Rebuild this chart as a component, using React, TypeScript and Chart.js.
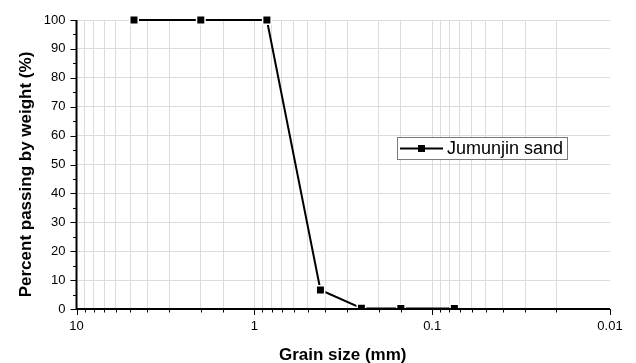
import React, { useEffect, useRef } from "react";
import { Chart, registerables } from "chart.js";

Chart.register(...registerables);

// Sieve sizes (mm) and percent passing for Jumunjin sand
const grainSizes = [4.75, 2.0, 0.85, 0.425, 0.25, 0.15, 0.075];
const percentPassing = [100, 100, 100, 6.6, 0.3, 0.2, 0.2];
const seriesName = "Jumunjin sand";
const xMajorTicks = [10, 1, 0.1, 0.01];
const yMajorTicks = [0, 10, 20, 30, 40, 50, 60, 70, 80, 90, 100];
const yMinorTicks = [5, 15, 25, 35, 45, 55, 65, 75, 85, 95];
const xTitle = "Grain size (mm)";
const yTitle = "Percent passing by weight (%)";

const FONT = "'Liberation Sans', Arial, sans-serif";

const isMajor = (v: number) => xMajorTicks.some((m) => Math.abs(v - m) / m < 1e-6);

const decorations = {
  id: "decorations",
  afterDraw(chart: any) {
    const { ctx, chartArea } = chart;
    const x = chart.scales.x;
    const y = chart.scales.y;
    ctx.save();

    // axis lines drawn over the data, so markers near 0 sit under the axis
    ctx.strokeStyle = "#000";
    ctx.lineWidth = 2;
    ctx.beginPath();
    ctx.moveTo(chartArea.left, chartArea.top);
    ctx.lineTo(chartArea.left, chartArea.bottom);
    ctx.lineTo(chartArea.right, chartArea.bottom);
    ctx.stroke();

    ctx.lineWidth = 1;
    // tick marks on the bottom axis (long at decades, short in between)
    for (const t of x.ticks) {
      const px = Math.round(x.getPixelForValue(t.value)) + 0.5;
      const len = isMajor(t.value) ? 6 : 3.5;
      ctx.beginPath();
      ctx.moveTo(px, chartArea.bottom);
      ctx.lineTo(px, chartArea.bottom + len);
      ctx.stroke();
    }
    // tick marks on the left axis
    const drawY = (v: number, len: number) => {
      const py = Math.round(y.getPixelForValue(v)) + 0.5;
      ctx.beginPath();
      ctx.moveTo(chartArea.left, py);
      ctx.lineTo(chartArea.left - len, py);
      ctx.stroke();
    };
    yMajorTicks.forEach((v) => drawY(v, 6));
    yMinorTicks.forEach((v) => drawY(v, 3.5));

    // axis titles
    ctx.fillStyle = "#000";
    ctx.font = `bold 17px ${FONT}`;
    ctx.textAlign = "center";
    ctx.textBaseline = "alphabetic";
    ctx.fillText(xTitle, (chartArea.left + chartArea.right) / 2 - 0.5, 360);
    ctx.save();
    ctx.translate(31, (chartArea.top + chartArea.bottom) / 2 + 10);
    ctx.rotate(-Math.PI / 2);
    ctx.fillText(yTitle, 0, 0);
    ctx.restore();

    // legend box
    const lx = 397.5, ly = 137.5, lw = 170, lh = 22;
    ctx.fillStyle = "#fff";
    ctx.fillRect(lx, ly, lw, lh);
    ctx.strokeStyle = "#7a7a7a";
    ctx.lineWidth = 1;
    ctx.strokeRect(lx, ly, lw, lh);
    const cy = ly + lh / 2;
    ctx.strokeStyle = "#000";
    ctx.lineWidth = 2;
    ctx.beginPath();
    ctx.moveTo(400, cy);
    ctx.lineTo(443, cy);
    ctx.stroke();
    ctx.fillStyle = "#000";
    ctx.fillRect(421.5 - 3.5, cy - 3.5, 7, 7);
    ctx.font = `18px ${FONT}`;
    ctx.textAlign = "left";
    ctx.textBaseline = "middle";
    ctx.fillText(seriesName, 447, cy + 1);
    ctx.restore();
  },
};

export default function App() {
  const canvasRef = useRef<HTMLCanvasElement | null>(null);

  useEffect(() => {
    const canvas = canvasRef.current;
    if (!canvas) return;
    const chart = new Chart(canvas, {
      type: "scatter",
      data: {
        datasets: [
          {
            label: seriesName,
            data: grainSizes.map((g, i) => ({ x: g, y: percentPassing[i] })),
            showLine: true,
            borderColor: "#000",
            borderWidth: 2,
            backgroundColor: "#000",
            pointStyle: "rect",
            pointRadius: 6,
            pointBorderColor: "#fff",
            pointBorderWidth: 1.5,
            clip: { left: 8, top: 8, right: 8, bottom: 0 },
          } as any,
        ],
      },
      options: {
        responsive: false,
        animation: false,
        devicePixelRatio: 1,
        layout: { padding: { top: 20, right: 26, left: 0, bottom: 0 } },
        plugins: { legend: { display: false }, tooltip: { enabled: false } },
        scales: {
          x: {
            type: "logarithmic",
            reverse: true,
            min: 0.01,
            max: 10,
            afterFit: (s: any) => {
              s.height = 54;
            },
            border: { display: false },
            grid: {
              drawTicks: false,
              lineWidth: 1,
              color: (c: any) =>
                c.tick && Math.abs(c.tick.value - 0.01) < 1e-9 ? "rgba(0,0,0,0)" : "#dcdcdc",
            },
            ticks: {
              autoSkip: false,
              maxRotation: 0,
              padding: 10,
              color: "#000",
              font: { family: FONT, size: 13 },
              callback: (v: any) => {
                const n = Number(v);
                if (!isMajor(n)) return "";
                return String(xMajorTicks.find((m) => Math.abs(n - m) / m < 1e-6));
              },
            },
          },
          y: {
            type: "linear",
            min: 0,
            max: 100,
            afterFit: (s: any) => {
              s.width = 76.5;
            },
            border: { display: false },
            grid: { drawTicks: false, color: "#dcdcdc", lineWidth: 1 },
            ticks: {
              stepSize: 10,
              padding: 11,
              color: "#000",
              font: { family: FONT, size: 13 },
            },
          },
        },
      } as any,
      plugins: [decorations],
    });
    return () => chart.destroy();
  }, []);

  return (
    <div style={{ position: "fixed", left: 0, top: 0, width: 636, height: 363, background: "#fff" }}>
      <canvas ref={canvasRef} width={636} height={363} />
    </div>
  );
}
